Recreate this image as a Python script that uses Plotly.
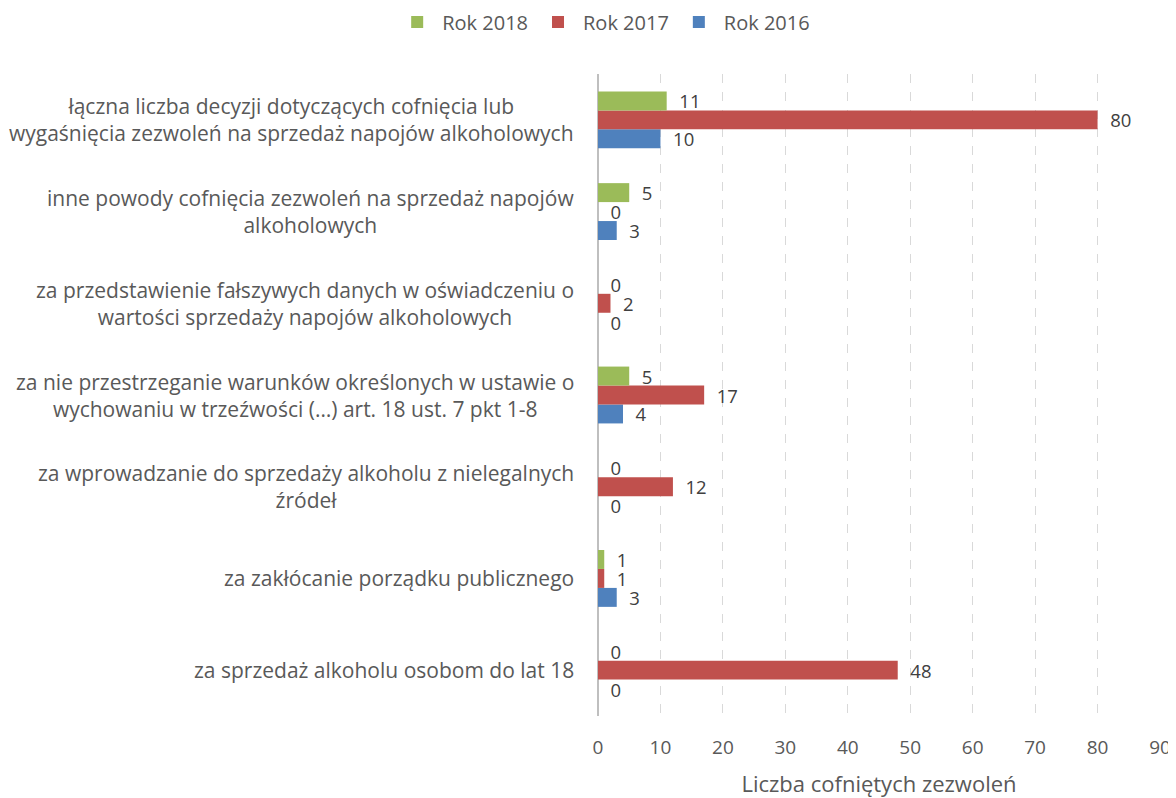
import plotly.graph_objects as go

categories = [
    "za sprzedaż alkoholu osobom do lat 18",
    "za zakłócanie porządku publicznego",
    "za wprowadzanie do sprzedaży alkoholu z nielegalnych źródeł",
    "za nie przestrzeganie warunków określonych w ustawie o wychowaniu w trzeźwości (…) art. 18 ust. 7 pkt 1-8",
    "za przedstawienie fałszywych danych w oświadczeniu o wartości sprzedaży napojów alkoholowych",
    "inne powody cofnięcia zezwoleń na sprzedaż napojów alkoholowych",
    "łączna liczba decyzji dotyczących cofnięcia lub wygaśnięcia zezwoleń na sprzedaż napojów alkoholowych",
]
category_labels = [
    "za sprzedaż alkoholu osobom do lat 18",
    "za zakłócanie porządku publicznego",
    "za wprowadzanie do sprzedaży alkoholu z nielegalnych<br>źródeł",
    "za nie przestrzeganie warunków określonych w ustawie o<br>wychowaniu w trzeźwości (…) art. 18 ust. 7 pkt 1-8",
    "za przedstawienie fałszywych danych w oświadczeniu o<br>wartości sprzedaży napojów alkoholowych",
    "inne powody cofnięcia zezwoleń na sprzedaż napojów<br>alkoholowych",
    "łączna liczba decyzji dotyczących cofnięcia lub<br>wygaśnięcia zezwoleń na sprzedaż napojów alkoholowych",
]
rok_2016 = [0, 3, 0, 4, 0, 3, 10]
rok_2017 = [48, 1, 12, 17, 2, 0, 80]
rok_2018 = [0, 1, 0, 5, 0, 5, 11]
x_ticks = [0, 10, 20, 30, 40, 50, 60, 70, 80, 90]

FONT = "Open Sans"
TXT = "#595959"

fig = go.Figure()
for name, vals, color in [
    ("Rok 2016", rok_2016, "#4f81bd"),
    ("Rok 2017", rok_2017, "#c0504d"),
    ("Rok 2018", rok_2018, "#9bbb59"),
]:
    fig.add_trace(go.Bar(
        y=categories, x=vals, name=name, orientation="h",
        marker=dict(color=color, line=dict(width=0)),
        text=vals, texttemplate="\u00a0\u00a0%{x}", textposition="outside",
        constraintext="none", cliponaxis=False,
        textfont=dict(family=FONT, size=18.5, color="#404040"),
    ))

for cat, lab in zip(categories, category_labels):
    fig.add_annotation(
        x=0, xref="paper", y=cat, yref="y", text=lab, showarrow=False,
        xanchor="right", align="center", xshift=-22,
        font=dict(family=FONT, size=21, color=TXT),
    )

fig.update_layout(
    width=1168, height=790,
    margin=dict(l=590, r=16, t=66, b=82, autoexpand=False),
    barmode="group", bargap=0.38, bargroupgap=0,
    plot_bgcolor="white", paper_bgcolor="white",
    font=dict(family=FONT, size=19, color=TXT),
    legend=dict(orientation="h", x=0.51, xref="container", xanchor="center",
                y=1.081, yref="paper", yanchor="middle", traceorder="reversed",
                itemwidth=40,
                font=dict(family=FONT, size=20, color=TXT)),
    xaxis=dict(range=[0, 90], tickvals=x_ticks, showgrid=True,
               gridcolor="#d9d9d9", griddash="dash", gridwidth=1,
               zeroline=True, zerolinecolor="#bfbfbf", zerolinewidth=1.5,
               ticks="", ticklabelstandoff=18, automargin=False,
               tickfont=dict(family=FONT, size=19, color=TXT),
               title=dict(text="Liczba cofniętych zezwoleń", standoff=19,
                          font=dict(family=FONT, size=22, color=TXT))),
    yaxis=dict(showticklabels=False, showgrid=False, zeroline=False, automargin=False),
)

fig.write_html("out.html")
